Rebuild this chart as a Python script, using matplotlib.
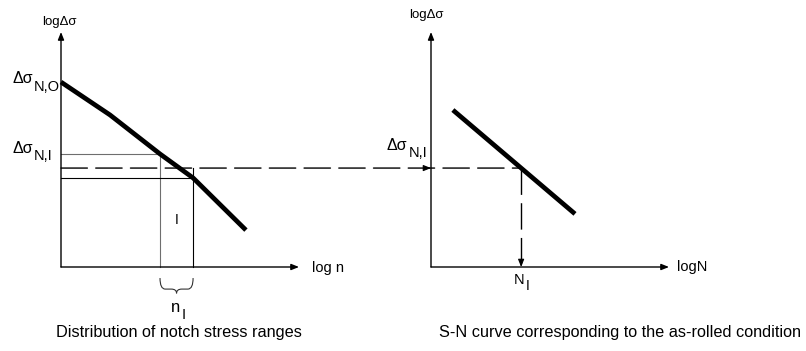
import numpy as np
import matplotlib
matplotlib.use("Agg")
import matplotlib.pyplot as plt
from matplotlib.patches import ConnectionPatch, PathPatch
from matplotlib.path import Path

plt.rcParams["font.family"] = ["Liberation Sans", "DejaVu Sans"]
plt.rcParams["lines.scale_dashes"] = False

# Distribution of notch stress ranges (schematic log n / log stress units)
dist_logn = [0.0, 2.06, 4.16, 5.55, 7.77]
dist_logs = [7.87, 6.47, 4.81, 3.79, 1.57]

# Stress block I: cycle interval and its representative stress level
block_n = [4.16, 5.55]
block_level = 4.21

# S-N curve for the as-rolled condition (schematic log N / log stress units)
sn_logN = [0.92, 6.05]
sn_logs = [6.68, 2.26]

captions = ["Distribution of notch stress ranges",
            "S-N curve corresponding to the as-rolled condition"]

W, H = 806, 351
fig = plt.figure(figsize=(W / 100, H / 100), dpi=100)
ax_l = fig.add_axes([61 / W, (H - 267) / H, 238 / W, 235 / H])
ax_r = fig.add_axes([431 / W, (H - 267) / H, 238 / W, 235 / H])
for ax in (ax_l, ax_r):
    ax.set_xlim(0, 10)
    ax.set_ylim(0, 10)
    ax.axis("off")

AX_LW = 1.0
HEAD = "-|>,head_length=0.45,head_width=0.18"
DASH = (0, (19, 6))


def draw_axes(ax):
    for tip in [(10, 0), (0, 10)]:
        ax.annotate("", xy=tip, xytext=(0, 0),
                    arrowprops=dict(arrowstyle=HEAD, lw=AX_LW, color="black",
                                    shrinkA=0, shrinkB=0),
                    annotation_clip=False)


def arrow_head(ax, tip, offset):
    ax.annotate("", xy=tip, xytext=offset, textcoords="offset points",
                arrowprops=dict(arrowstyle=HEAD, lw=0.8, color="black",
                                shrinkA=0, shrinkB=0),
                annotation_clip=False)


def sub_label(ax, xy, main, sub, fs=11.5, fs_sub=10.5, drop=5.5, gap=0.6):
    """Main symbol with a lowered index, left edge at xy, baseline at xy."""
    t = ax.text(xy[0], xy[1], main, ha="left", va="baseline", fontsize=fs,
                clip_on=False)
    ax.annotate(sub, xy=(1, 0), xycoords=t, xytext=(gap, -drop),
                textcoords="offset points", ha="left", va="bottom",
                fontsize=fs_sub, annotation_clip=False)


draw_axes(ax_l)
draw_axes(ax_r)

# ---- left panel: notch stress distribution with one stress block ----
s_top = np.interp(block_n[0], dist_logn, dist_logs)
s_bot = np.interp(block_n[1], dist_logn, dist_logs)

ax_l.plot([0, block_n[0]], [s_top, s_top], color="#6e6e6e", lw=0.8,
          clip_on=False)
ax_l.plot([block_n[0], block_n[0]], [0, s_top], color="#6e6e6e", lw=0.8,
          clip_on=False)
ax_l.plot([0, block_n[1]], [s_bot, s_bot], color="black", lw=0.8,
          clip_on=False)
ax_l.plot([block_n[1], block_n[1]], [0, block_level], color="black", lw=0.8,
          clip_on=False)

ax_l.plot(dist_logn, dist_logs, color="black", lw=3.4,
          solid_capstyle="butt", solid_joinstyle="round", clip_on=False,
          zorder=5)

ax_l.text(np.mean(block_n), 2.0, "I", ha="center", va="center", fontsize=10)

# brace under the block interval
x0, x1 = block_n
xc = 0.5 * (x0 + x1)
yt, ym, yb = -0.47, -0.94, -1.12
r = 0.22
verts = [(x0, yt), (x0, ym), (x0 + r, ym), (xc - r, ym), (xc, ym), (xc, yb),
         (xc, ym), (xc + r, ym), (x1 - r, ym), (x1, ym), (x1, yt)]
codes = [Path.MOVETO, Path.CURVE3, Path.CURVE3, Path.LINETO, Path.CURVE3,
         Path.CURVE3, Path.CURVE3, Path.CURVE3, Path.LINETO, Path.CURVE3,
         Path.CURVE3]
ax_l.add_patch(PathPatch(Path(verts, codes), fill=False, lw=0.8,
                         edgecolor="#333333", clip_on=False))

sub_label(ax_l, (4.63, -1.93), "n", "I", fs=12, fs_sub=10.5, drop=4.5)

ax_l.text(-0.08, 10.43, "logΔσ", ha="center", va="center", fontsize=9.5)
ax_l.text(10.55, -0.04, "log n", ha="left", va="center", fontsize=10.5)
sub_label(ax_l, (-2.05, 7.81), "Δσ", "N,O")
sub_label(ax_l, (-2.05, 4.86), "Δσ", "N,I")

# ---- right panel: S-N curve ----
N_I = np.interp(block_level, sn_logs[::-1], sn_logN[::-1])
ax_r.plot(sn_logN, sn_logs, color="black", lw=3.4, solid_capstyle="butt",
          clip_on=False, zorder=5)
ax_r.plot([N_I, N_I], [block_level, 0], color="black", lw=1.0,
          linestyle=DASH, clip_on=False)
arrow_head(ax_r, (N_I, 0), (0, 5))

ax_r.text(-0.21, 10.72, "logΔσ", ha="center", va="center", fontsize=9.5)
ax_r.text(10.34, 0.0, "logN", ha="left", va="center", fontsize=10.5)
sub_label(ax_r, (-1.85, 5.0), "Δσ", "N,I")
sub_label(ax_r, (N_I - 0.3, -0.72), "N", "I", fs=10.5, fs_sub=10, drop=4.5)

# ---- stress level carried from the distribution to the S-N curve ----
link = ConnectionPatch(xyA=(0, block_level), coordsA=ax_l.transData,
                       xyB=(N_I, block_level), coordsB=ax_r.transData,
                       color="black", lw=1.0, linestyle=DASH)
fig.add_artist(link)
arrow_head(ax_r, (0, block_level), (-5, 0))

fig.text(179 / W, 1 - 332 / H, captions[0], ha="center", va="center",
         fontsize=11.7)
fig.text(620 / W, 1 - 332 / H, captions[1], ha="center", va="center",
         fontsize=11.7)

fig.savefig("out.png", dpi=100)
